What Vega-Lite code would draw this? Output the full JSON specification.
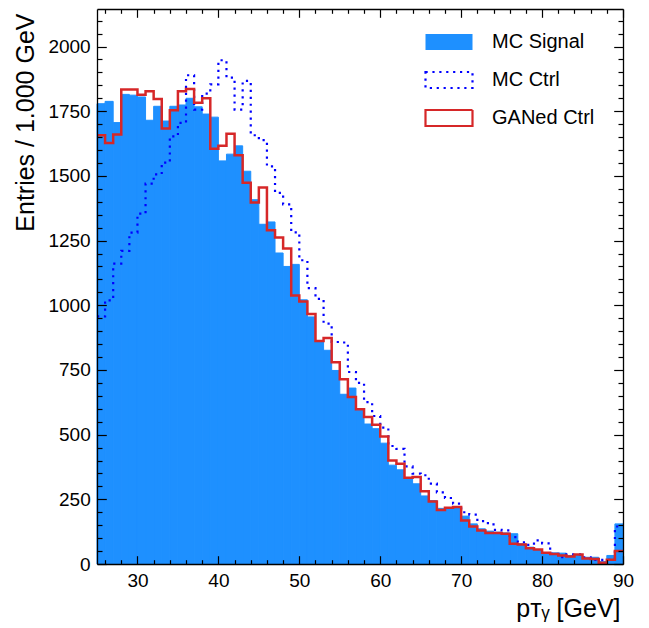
{
  "$schema": "https://vega.github.io/schema/vega-lite/v6.json",
  "width": 526,
  "height": 555,
  "autosize": {"type": "none"},
  "padding": {"left": 97, "top": 9, "right": 26, "bottom": 64},
  "background": "white",
  "config": {
    "font": "Liberation Sans",
    "view": {"stroke": null},
    "axis": {
      "grid": false,
      "domainColor": "black",
      "domainWidth": 1.3,
      "labelColor": "black",
      "titleColor": "black",
      "labelFont": "Liberation Sans",
      "titleFont": "Liberation Sans",
      "labelFontSize": 19,
      "titleFontWeight": "normal",
      "labelOverlap": false,
      "labelFlush": false
    }
  },
  "data": {
    "values": [
      {"lo": 25, "hi": 26, "signal": 1779, "ctrl": 957, "gan": 1657},
      {"lo": 26, "hi": 27, "signal": 1788, "ctrl": 1019, "gan": 1627},
      {"lo": 27, "hi": 28, "signal": 1706, "ctrl": 1161, "gan": 1660},
      {"lo": 28, "hi": 29, "signal": 1815, "ctrl": 1210, "gan": 1834},
      {"lo": 29, "hi": 30, "signal": 1812, "ctrl": 1281, "gan": 1834},
      {"lo": 30, "hi": 31, "signal": 1805, "ctrl": 1354, "gan": 1814},
      {"lo": 31, "hi": 32, "signal": 1715, "ctrl": 1470, "gan": 1827},
      {"lo": 32, "hi": 33, "signal": 1769, "ctrl": 1506, "gan": 1797},
      {"lo": 33, "hi": 34, "signal": 1712, "ctrl": 1551, "gan": 1683},
      {"lo": 34, "hi": 35, "signal": 1769, "ctrl": 1653, "gan": 1754},
      {"lo": 35, "hi": 36, "signal": 1774, "ctrl": 1705, "gan": 1827},
      {"lo": 36, "hi": 37, "signal": 1800, "ctrl": 1889, "gan": 1836},
      {"lo": 37, "hi": 38, "signal": 1767, "ctrl": 1756, "gan": 1783},
      {"lo": 38, "hi": 39, "signal": 1739, "ctrl": 1818, "gan": 1800},
      {"lo": 39, "hi": 40, "signal": 1727, "ctrl": 1854, "gan": 1605},
      {"lo": 40, "hi": 41, "signal": 1558, "ctrl": 1947, "gan": 1616},
      {"lo": 41, "hi": 42, "signal": 1584, "ctrl": 1880, "gan": 1663},
      {"lo": 42, "hi": 43, "signal": 1616, "ctrl": 1756, "gan": 1580},
      {"lo": 43, "hi": 44, "signal": 1518, "ctrl": 1867, "gan": 1473},
      {"lo": 44, "hi": 45, "signal": 1408, "ctrl": 1657, "gan": 1397},
      {"lo": 45, "hi": 46, "signal": 1313, "ctrl": 1638, "gan": 1455},
      {"lo": 46, "hi": 47, "signal": 1322, "ctrl": 1537, "gan": 1290},
      {"lo": 47, "hi": 48, "signal": 1202, "ctrl": 1434, "gan": 1262},
      {"lo": 48, "hi": 49, "signal": 1150, "ctrl": 1390, "gan": 1219},
      {"lo": 49, "hi": 50, "signal": 1158, "ctrl": 1282, "gan": 1038},
      {"lo": 50, "hi": 51, "signal": 1021, "ctrl": 1174, "gan": 1015},
      {"lo": 51, "hi": 52, "signal": 955, "ctrl": 1066, "gan": 966},
      {"lo": 52, "hi": 53, "signal": 858, "ctrl": 1025, "gan": 862},
      {"lo": 53, "hi": 54, "signal": 826, "ctrl": 929, "gan": 873},
      {"lo": 54, "hi": 55, "signal": 748, "ctrl": 858, "gan": 780},
      {"lo": 55, "hi": 56, "signal": 656, "ctrl": 856, "gan": 714},
      {"lo": 56, "hi": 57, "signal": 680, "ctrl": 742, "gan": 645},
      {"lo": 57, "hi": 58, "signal": 594, "ctrl": 700, "gan": 598},
      {"lo": 58, "hi": 59, "signal": 541, "ctrl": 626, "gan": 568},
      {"lo": 59, "hi": 60, "signal": 523, "ctrl": 572, "gan": 538},
      {"lo": 60, "hi": 61, "signal": 467, "ctrl": 527, "gan": 493},
      {"lo": 61, "hi": 62, "signal": 382, "ctrl": 456, "gan": 400},
      {"lo": 62, "hi": 63, "signal": 364, "ctrl": 445, "gan": 387},
      {"lo": 63, "hi": 64, "signal": 333, "ctrl": 377, "gan": 333},
      {"lo": 64, "hi": 65, "signal": 310, "ctrl": 349, "gan": 336},
      {"lo": 65, "hi": 66, "signal": 263, "ctrl": 343, "gan": 281},
      {"lo": 66, "hi": 67, "signal": 245, "ctrl": 311, "gan": 242},
      {"lo": 67, "hi": 68, "signal": 215, "ctrl": 277, "gan": 209},
      {"lo": 68, "hi": 69, "signal": 218, "ctrl": 255, "gan": 217},
      {"lo": 69, "hi": 70, "signal": 222, "ctrl": 233, "gan": 220},
      {"lo": 70, "hi": 71, "signal": 185, "ctrl": 200, "gan": 168},
      {"lo": 71, "hi": 72, "signal": 155, "ctrl": 191, "gan": 145},
      {"lo": 72, "hi": 73, "signal": 136, "ctrl": 166, "gan": 129},
      {"lo": 73, "hi": 74, "signal": 127, "ctrl": 158, "gan": 120},
      {"lo": 74, "hi": 75, "signal": 123, "ctrl": 132, "gan": 120},
      {"lo": 75, "hi": 76, "signal": 120, "ctrl": 130, "gan": 117},
      {"lo": 76, "hi": 77, "signal": 117, "ctrl": 104, "gan": 78},
      {"lo": 77, "hi": 78, "signal": 78, "ctrl": 84, "gan": 75},
      {"lo": 78, "hi": 79, "signal": 65, "ctrl": 74, "gan": 61},
      {"lo": 79, "hi": 80, "signal": 55, "ctrl": 91, "gan": 56},
      {"lo": 80, "hi": 81, "signal": 42, "ctrl": 80, "gan": 43},
      {"lo": 81, "hi": 82, "signal": 43, "ctrl": 39, "gan": 39},
      {"lo": 82, "hi": 83, "signal": 42, "ctrl": 26, "gan": 33},
      {"lo": 83, "hi": 84, "signal": 33, "ctrl": 37, "gan": 29},
      {"lo": 84, "hi": 85, "signal": 33, "ctrl": 37, "gan": 37},
      {"lo": 85, "hi": 86, "signal": 26, "ctrl": 26, "gan": 21},
      {"lo": 86, "hi": 87, "signal": 26, "ctrl": 16, "gan": 19},
      {"lo": 87, "hi": 88, "signal": 10, "ctrl": 16, "gan": 5},
      {"lo": 88, "hi": 89, "signal": 33, "ctrl": 16, "gan": 16},
      {"lo": 89, "hi": 90, "signal": 155, "ctrl": 145, "gan": 50}
    ]
  },
  "layer": [
    {
      "mark": {"type": "rect", "stroke": "#1E90FF", "strokeWidth": 1},
      "encoding": {
        "x": {
          "field": "lo", "type": "quantitative",
          "scale": {"domain": [25, 90], "nice": false, "zero": false},
          "axis": {
            "orient": "bottom",
            "zindex": 2,
            "values": [30, 40, 50, 60, 70, 80, 90],
            "format": "d",
            "ticks": true,
            "tickColor": "#000000",
            "tickWidth": 1.2,
            "tickOpacity": 1,
            "tickSize": -8.3,
            "labelPadding": 16,
            "title": "pᴛᵧ [GeV]",
            "titleFontSize": 25,
            "titleAnchor": "end",
            "titleAlign": "right",
            "titleBaseline": "alphabetic",
            "titleX": 523,
            "titleY": 52
          }
        },
        "x2": {"field": "hi"},
        "y": {
          "field": "signal", "type": "quantitative",
          "scale": {"domain": [0, 2145], "nice": false},
          "axis": {
            "orient": "left",
            "zindex": 2,
            "values": [0, 250, 500, 750, 1000, 1250, 1500, 1750, 2000],
            "format": "d",
            "ticks": true,
            "tickColor": "#000000",
            "tickWidth": 1.2,
            "tickOpacity": 1,
            "tickSize": -9.3,
            "labelPadding": 16.1,
            "title": "Entries / 1.000 GeV",
            "titleFontSize": 25,
            "titleAngle": -90,
            "titleAnchor": "end",
            "titleAlign": "right",
            "titleBaseline": "alphabetic",
            "titleX": -64,
            "titleY": 4
          }
        },
        "y2": {"datum": 0},
        "fill": {
          "datum": "MC Signal", "type": "nominal",
          "scale": {"domain": ["MC Signal", "MC Ctrl", "GANed Ctrl"], "range": ["#1E90FF", "transparent", "transparent"]},
          "legend": {"title": null, "orient": "none", "legendX": 327, "legendY": 8, "symbolType": "M-1,-0.34H1V0.34H-1Z", "symbolSize": 2209, "symbolStrokeWidth": 2.2, "labelFontSize": 20, "labelFont": "Liberation Sans", "labelColor": "black", "labelOffset": 18, "rowPadding": -12.5, "padding": 0}
        }
      }
    },
    {
      "transform": [{"fold": ["lo", "hi"], "as": ["edge", "xpos"]}],
      "mark": {"type": "line", "strokeWidth": 2.2, "strokeCap": "butt", "strokeJoin": "miter"},
      "encoding": {
        "x": {
          "field": "xpos", "type": "quantitative",
          "scale": {"domain": [25, 90], "nice": false, "zero": false},
          "axis": {"orient": "top", "zindex": 2, "values": [30, 40, 50, 60, 70, 80, 90], "ticks": true, "tickColor": "#000000", "tickWidth": 1.2, "tickOpacity": 1, "tickSize": -8.3, "labels": false, "title": null}
        },
        "y": {
          "field": "ctrl", "type": "quantitative",
          "scale": {"domain": [0, 2145], "nice": false},
          "axis": {"orient": "right", "zindex": 2, "values": [0, 250, 500, 750, 1000, 1250, 1500, 1750, 2000], "ticks": true, "tickColor": "#000000", "tickWidth": 1.2, "tickOpacity": 1, "tickSize": -9.3, "labels": false, "title": null}
        },
        "order": [{"field": "lo", "type": "quantitative"}, {"field": "xpos", "type": "quantitative"}],
        "stroke": {
          "datum": "MC Ctrl", "type": "nominal",
          "scale": {"domain": ["MC Signal", "MC Ctrl", "GANed Ctrl"], "range": ["transparent", "#0000FF", "#D62728"]},
          "legend": {"title": null, "orient": "none", "legendX": 327, "legendY": 8, "symbolType": "M-1,-0.34H1V0.34H-1Z", "symbolSize": 2209, "symbolStrokeWidth": 2.2, "labelFontSize": 20, "labelFont": "Liberation Sans", "labelColor": "black", "labelOffset": 18, "rowPadding": -12.5, "padding": 0}
        },
        "strokeDash": {
          "datum": "MC Ctrl", "type": "nominal",
          "scale": {"domain": ["MC Signal", "MC Ctrl", "GANed Ctrl"], "range": [[1, 0], [2.2, 4.7], [1, 0]]},
          "legend": {"title": null, "orient": "none", "legendX": 327, "legendY": 8, "symbolType": "M-1,-0.34H1V0.34H-1Z", "symbolSize": 2209, "symbolStrokeWidth": 2.2, "labelFontSize": 20, "labelFont": "Liberation Sans", "labelColor": "black", "labelOffset": 18, "rowPadding": -12.5, "padding": 0}
        }
      }
    },
    {
      "transform": [{"fold": ["lo", "hi"], "as": ["edge", "xpos"]}],
      "mark": {"type": "line", "strokeWidth": 2.5, "strokeCap": "butt", "strokeJoin": "miter"},
      "encoding": {
        "x": {
          "field": "xpos", "type": "quantitative",
          "scale": {"domain": [25, 90], "nice": false, "zero": false},
          "axis": {"orient": "bottom", "zindex": 2, "values": [26,28,32,34,36,38,42,44,46,48,52,54,56,58,62,64,66,68,72,74,76,78,82,84,86,88], "ticks": true, "tickColor": "#000000", "tickWidth": 1.2, "tickOpacity": 1, "tickSize": -4.3, "domain": false, "labels": false, "title": null}
        },
        "y": {
          "field": "gan", "type": "quantitative",
          "scale": {"domain": [0, 2145], "nice": false},
          "axis": {"orient": "left", "zindex": 2, "values": [50,100,150,200,300,350,400,450,550,600,650,700,800,850,900,950,1050,1100,1150,1200,1300,1350,1400,1450,1550,1600,1650,1700,1800,1850,1900,1950,2050,2100], "ticks": true, "tickColor": "#000000", "tickWidth": 1.2, "tickOpacity": 1, "tickSize": -5, "domain": false, "labels": false, "title": null}
        },
        "order": [{"field": "lo", "type": "quantitative"}, {"field": "xpos", "type": "quantitative"}],
        "stroke": {"datum": "GANed Ctrl", "type": "nominal"},
        "strokeDash": {"datum": "GANed Ctrl", "type": "nominal"}
      }
    },
    {
      "mark": {"type": "point", "opacity": 0},
      "encoding": {
        "x": {
          "field": "lo", "type": "quantitative",
          "scale": {"domain": [25, 90], "nice": false, "zero": false},
          "axis": {"orient": "top", "zindex": 2, "values": [26,28,32,34,36,38,42,44,46,48,52,54,56,58,62,64,66,68,72,74,76,78,82,84,86,88], "ticks": true, "tickColor": "#000000", "tickWidth": 1.2, "tickOpacity": 1, "tickSize": -4.3, "domain": false, "labels": false, "title": null}
        },
        "y": {
          "field": "signal", "type": "quantitative",
          "scale": {"domain": [0, 2145], "nice": false},
          "axis": {"orient": "right", "zindex": 2, "values": [50,100,150,200,300,350,400,450,550,600,650,700,800,850,900,950,1050,1100,1150,1200,1300,1350,1400,1450,1550,1600,1650,1700,1800,1850,1900,1950,2050,2100], "ticks": true, "tickColor": "#000000", "tickWidth": 1.2, "tickOpacity": 1, "tickSize": -5, "domain": false, "labels": false, "title": null}
        }
      }
    }
  ],
  "resolve": {"axis": {"x": "independent", "y": "independent"}}
}
